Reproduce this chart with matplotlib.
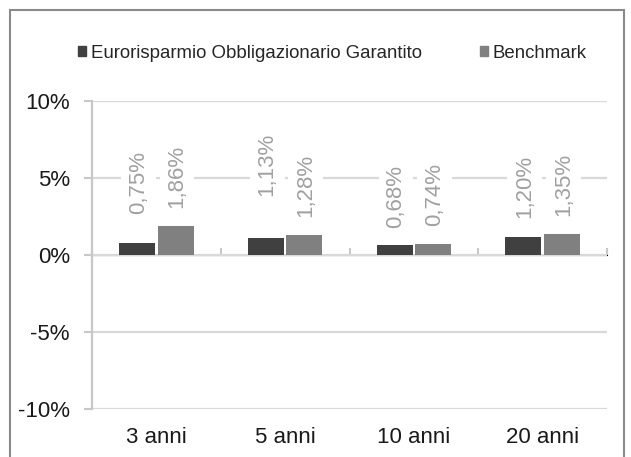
import matplotlib
matplotlib.use("Agg")
import matplotlib.pyplot as plt
import numpy as np
from matplotlib.patches import Rectangle, Patch

# ---- data ----
categories = ["3 anni", "5 anni", "10 anni", "20 anni"]
fund = [0.75, 1.13, 0.68, 1.20]
bench = [1.86, 1.28, 0.74, 1.35]
series_names = ["Eurorisparmio Obbligazionario Garantito", "Benchmark"]
yticks = [-10, -5, 0, 5, 10]
ytick_labels = ["-10%", "-5%", "0%", "5%", "10%"]

# label offsets above bar tops (points) - style only
fund_label_off = [21, 30, 12, 13]
bench_label_off = [13, 13, 13, 13]

plt.rcParams['font.family'] = ['Liberation Sans', 'DejaVu Sans']

W, H = 631, 457
fig = plt.figure(figsize=(W / 100, H / 100), dpi=100)
ax = fig.add_axes([92 / W, 1 - 409 / H, (607 - 92) / W, (409 - 101) / H])

x = np.arange(len(categories))
bw = 0.28
off = 0.15
dark = '#404040'
light = '#808080'
ax.bar(x - off, fund, bw, color=dark, zorder=3)
ax.bar(x + off, bench, bw, color=light, zorder=3)

ax.set_xlim(-0.5, len(categories) - 0.5)
ax.set_ylim(min(yticks), max(yticks))

grid_c = '#d9d9d9'
ax.set_yticks(yticks)
ax.set_yticklabels(ytick_labels)
ax.yaxis.grid(True, color=grid_c, linewidth=1.6, zorder=0)
ax.set_axisbelow(True)
ax.tick_params(axis='y', length=6, width=1.5, color='#c8c8c8', pad=10,
               labelsize=16, labelcolor='#1a1a1a')

ax.set_xticks(x)
ax.set_xticklabels(categories)
ax.tick_params(axis='x', length=0, pad=13, labelsize=16, labelcolor='#1a1a1a')

for s in ['top', 'right', 'bottom']:
    ax.spines[s].set_visible(False)
ax.spines['left'].set_color('#c8c8c8')
ax.spines['left'].set_linewidth(1.6)

# category axis at 0
sec = ax.secondary_xaxis(0.5)
sec.set_xticks(np.arange(len(categories) + 1) - 0.5)
sec.set_xticklabels([])
sec.tick_params(axis='x', length=5, width=1.5, color='#c8c8c8', direction='out')
sec.spines['bottom'].set_color('#c8c8c8')
sec.spines['bottom'].set_linewidth(1.6)

lab_c = '#a0a0a0'
def fmt(v):
    return f"{v:.2f}%".replace('.', ',')

for xi, v, o in zip(x - off, fund, fund_label_off):
    ax.annotate(fmt(v), xy=(xi, v), xytext=(1, o), textcoords='offset points',
                rotation=90, ha='center', va='bottom', fontsize=16, color=lab_c,
                bbox=dict(fc='white', ec='none', pad=5), zorder=4)
for xi, v, o in zip(x + off, bench, bench_label_off):
    ax.annotate(fmt(v), xy=(xi, v), xytext=(1, o), textcoords='offset points',
                rotation=90, ha='center', va='bottom', fontsize=16, color=lab_c,
                bbox=dict(fc='white', ec='none', pad=5), zorder=4)

handles = [Patch(color=dark), Patch(color=light)]
fig.legend(handles, series_names, loc='center left',
           bbox_to_anchor=(78 / W, 1 - 53 / H), ncol=2, frameon=False,
           fontsize=13.4, handlelength=0.45, handleheight=0.45,
           handletextpad=0.25, columnspacing=3.1, borderpad=0,
           borderaxespad=0, labelcolor='#262626')

# outer chart frame (bottom edge cut off)
fig.patches.append(Rectangle((10 / W, -0.05), (624 - 10) / W, 1 - 10 / H + 0.05,
                             transform=fig.transFigure, fill=False,
                             ec='#8a8a8a', lw=1.5))

fig.savefig('out.png', dpi=100)
